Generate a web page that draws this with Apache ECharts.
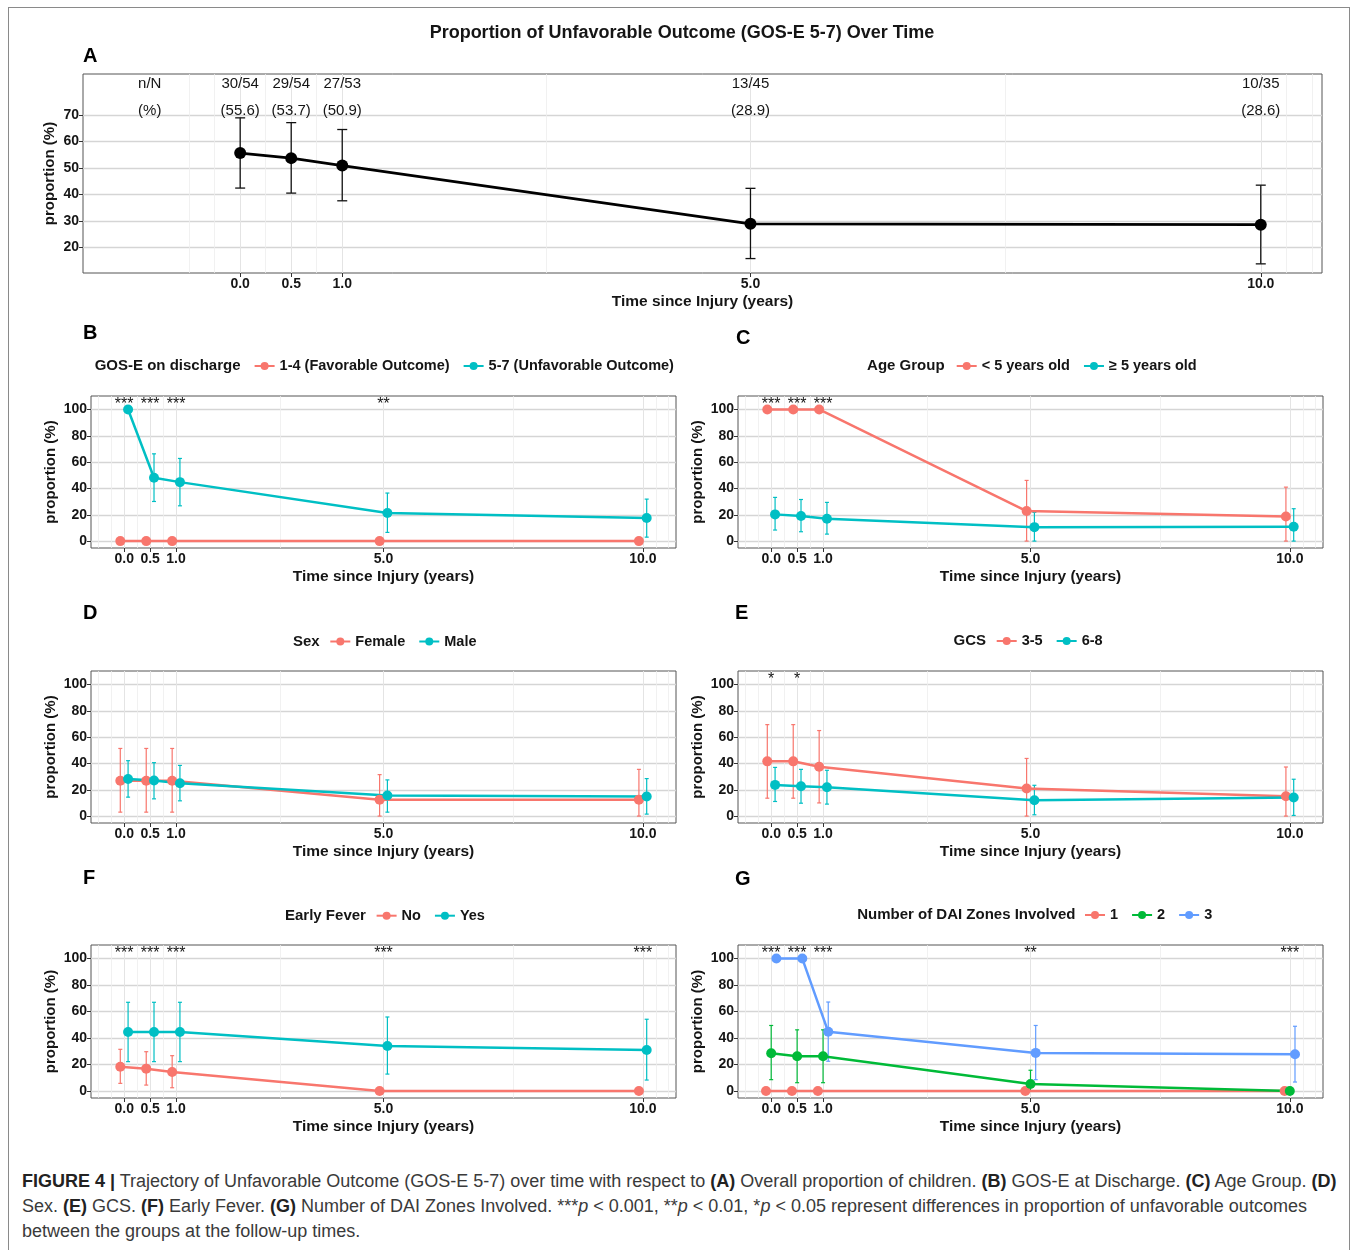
<!DOCTYPE html>
<html>
<head>
<meta charset="utf-8">
<script src="https://cdn.jsdelivr.net/npm/echarts@6/dist/echarts.min.js"></script>
<style>
html,body{margin:0;padding:0;background:#fff;}
#wrap{position:relative;width:1358px;height:1250px;overflow:hidden;background:#fff;}
#frame{position:absolute;left:8px;top:7px;width:1342px;height:1300px;border:1.5px solid #8a8a8a;box-sizing:border-box;}
#chart{position:absolute;left:0;top:0;width:1358px;height:1165px;}
#caption{position:absolute;left:22px;top:1169px;font-family:'Liberation Sans',Arial,sans-serif;font-size:18px;line-height:25px;color:#3a3a3a;white-space:nowrap;}
#caption b{color:#222;}
</style>
</head>
<body>
<div id="wrap">
  <div id="frame"></div>
  <div id="chart"></div>
  <div id="caption"><b>FIGURE 4 |</b> Trajectory of Unfavorable Outcome (GOS-E 5-7) over time with respect to <b>(A)</b> Overall proportion of children. <b>(B)</b> GOS-E at Discharge. <b>(C)</b> Age Group. <b>(D)</b><br>Sex. <b>(E)</b> GCS. <b>(F)</b> Early Fever. <b>(G)</b> Number of DAI Zones Involved. ***<i>p</i> &lt; 0.001, **<i>p</i> &lt; 0.01, *<i>p</i> &lt; 0.05 represent differences in proportion of unfavorable outcomes<br>between the groups at the follow-up times.</div>
</div>
<script>
// ---------- tick labels / breaks ----------
const timeBreaks = [0, 0.5, 1, 5, 10];
const minorBreaks = [-0.5, -0.25, 0.25, 0.75, 3, 7.5, 10.25, 10.5];
const yTicksOverall = [20, 30, 40, 50, 60, 70];
const yTicksGroup = [0, 20, 40, 60, 80, 100];

// ---------- Panel A: overall ----------
const overallCounts = ['30/54', '29/54', '27/53', '13/45', '10/35'];
const overallPct = [55.6, 53.7, 50.9, 28.9, 28.6];
const overallLow = [42.4, 40.5, 37.6, 15.8, 13.8];
const overallHigh = [68.9, 67.1, 64.5, 42.3, 43.5];

// ---------- Panel B: GOS-E on discharge ----------
const gosNames = ['1-4 (Favorable Outcome)', '5-7 (Unfavorable Outcome)'];
const gosFav = [0, 0, 0, 0, 0];
const gosFavLow = [0, 0, 0, 0, 0];
const gosFavHigh = [0, 0, 0, 0, 0];
const gosUnfav = [100, 48.1, 44.8, 21.3, 17.5];
const gosUnfavLow = [100, 30.1, 26.8, 6.6, 3.0];
const gosUnfavHigh = [100, 66.3, 62.8, 36.5, 31.9];
const gosStars = ['***', '***', '***', '**', ''];

// ---------- Panel C: Age group ----------
const ageNames = ['< 5 years old', '\u2265 5 years old'];
const ageYoung = [100, 100, 100, 22.8, 18.7];
const ageYoungLow = [100, 100, 100, 0, 0];
const ageYoungHigh = [100, 100, 100, 46.1, 41.0];
const ageOld = [20.3, 19.0, 17.0, 10.6, 10.9];
const ageOldLow = [8.4, 7.1, 5.3, 0, 0];
const ageOldHigh = [33.2, 31.6, 29.4, 21.8, 24.6];
const ageStars = ['***', '***', '***', '', ''];

// ---------- Panel D: Sex ----------
const sexNames = ['Female', 'Male'];
const sexFemale = [26.9, 26.9, 26.9, 12.5, 12.5];
const sexFemaleLow = [3.0, 3.0, 3.0, 0, 0];
const sexFemaleHigh = [51.4, 51.4, 51.4, 31.5, 35.5];
const sexMale = [28.2, 27.0, 24.9, 15.6, 14.9];
const sexMaleLow = [14.4, 13.1, 11.6, 3.0, 1.5];
const sexMaleHigh = [42.1, 40.6, 38.5, 27.5, 28.5];
const sexStars = ['', '', '', '', ''];

// ---------- Panel E: GCS ----------
const gcsNames = ['3-5', '6-8'];
const gcsLow35 = [41.6, 41.6, 37.5, 20.9, 15.1];
const gcsLow35Lo = [13.6, 13.6, 10.0, 0, 0];
const gcsLow35Hi = [69.5, 69.5, 65.0, 43.8, 37.3];
const gcsHigh68 = [23.7, 22.7, 21.9, 12.1, 14.1];
const gcsHigh68Lo = [11.1, 9.8, 9.1, 1.0, 0.5];
const gcsHigh68Hi = [37.0, 35.5, 34.8, 23.4, 28.0];
const gcsStars = ['*', '*', '', '', ''];

// ---------- Panel F: Early fever ----------
const feverNames = ['No', 'Yes'];
const feverNo = [18.4, 16.9, 14.4, 0, 0];
const feverNoLow = [5.8, 4.5, 2.5, 0, 0];
const feverNoHigh = [31.5, 29.7, 26.7, 0, 0];
const feverYes = [44.6, 44.6, 44.6, 34.0, 31.0];
const feverYesLow = [22.2, 22.2, 22.2, 12.8, 8.3];
const feverYesHigh = [67.0, 67.0, 67.0, 55.9, 54.2];
const feverStars = ['***', '***', '***', '***', '***'];

// ---------- Panel G: DAI zones ----------
const daiNames = ['1', '2', '3'];
const dai1 = [0, 0, 0, 0, 0];
const dai1Low = [0, 0, 0, 0, 0];
const dai1High = [0, 0, 0, 0, 0];
const dai2 = [28.5, 26.3, 26.3, 5.3, 0];
const dai2Low = [8.6, 6.3, 6.3, 0, 0];
const dai2High = [49.5, 46.2, 46.2, 15.7, 0];
const dai3 = [100, 100, 44.7, 28.8, 27.8];
const dai3Low = [100, 100, 22.5, 8.6, 6.8];
const dai3High = [100, 100, 67.2, 49.5, 48.9];
const daiStars = ['***', '***', '***', '**', '***'];

// ---------- styling / layout ----------
const FONT = "'Liberation Sans', Arial, Helvetica, sans-serif";
const TXT = '#151515';
const RED = '#F8766D', TEAL = '#00BFC4', GREEN = '#00BA38', BLUE = '#619CFF';

const panels = [
  {letter: 'B', legendTitle: 'GOS-E on discharge', stars: gosStars, groups: [
    {name: gosNames[0], v: gosFav, lo: gosFavLow, hi: gosFavHigh},
    {name: gosNames[1], v: gosUnfav, lo: gosUnfavLow, hi: gosUnfavHigh}]},
  {letter: 'C', legendTitle: 'Age Group', stars: ageStars, groups: [
    {name: ageNames[0], v: ageYoung, lo: ageYoungLow, hi: ageYoungHigh},
    {name: ageNames[1], v: ageOld, lo: ageOldLow, hi: ageOldHigh}]},
  {letter: 'D', legendTitle: 'Sex', stars: sexStars, groups: [
    {name: sexNames[0], v: sexFemale, lo: sexFemaleLow, hi: sexFemaleHigh},
    {name: sexNames[1], v: sexMale, lo: sexMaleLow, hi: sexMaleHigh}]},
  {letter: 'E', legendTitle: 'GCS', stars: gcsStars, groups: [
    {name: gcsNames[0], v: gcsLow35, lo: gcsLow35Lo, hi: gcsLow35Hi},
    {name: gcsNames[1], v: gcsHigh68, lo: gcsHigh68Lo, hi: gcsHigh68Hi}]},
  {letter: 'F', legendTitle: 'Early Fever', stars: feverStars, groups: [
    {name: feverNames[0], v: feverNo, lo: feverNoLow, hi: feverNoHigh},
    {name: feverNames[1], v: feverYes, lo: feverYesLow, hi: feverYesHigh}]},
  {letter: 'G', legendTitle: 'Number of DAI Zones Involved', stars: daiStars, groups: [
    {name: daiNames[0], v: dai1, lo: dai1Low, hi: dai1High},
    {name: daiNames[1], v: dai2, lo: dai2Low, hi: dai2High},
    {name: daiNames[2], v: dai3, lo: dai3Low, hi: dai3High}]}
];

// pixel layout
const gridA = {left: 83, top: 74, width: 1239, height: 199};
const panelRects = [
  {left: 91, top: 396, width: 585, height: 152},
  {left: 738, top: 396, width: 585, height: 152},
  {left: 91, top: 671, width: 585, height: 152},
  {left: 738, top: 671, width: 585, height: 152},
  {left: 91, top: 945, width: 585, height: 153},
  {left: 738, top: 945, width: 585, height: 153}
];
const letterPos = [[83, 56], [83, 333], [736, 338], [83, 613], [735, 613], [83, 878], [735, 879]];
const legendPos = [
  {icon: 263.6, y: 366, titleRight: 240.5},
  {icon: 965.7, y: 366, titleRight: 944.6},
  {icon: 339.3, y: 641.5, titleRight: 319.6},
  {icon: 1005.7, y: 641, titleRight: 986},
  {icon: 385.6, y: 915.7, titleRight: 365.9},
  {icon: 1094, y: 915, titleRight: 1075.5}
];
const xRangeA = [-1.54, 10.6], yRangeA = [10.35, 85.45];
const xRangeP = [-0.64, 10.64], yRangeP = [-5.25, 110.25];
const starY = 104;
const headerY = [81.7, 71.5];
const headerX = -1;

const grids = [], xAxes = [], yAxes = [], series = [], legends = [], graphics = [];

function addAxes(gi, rect, xr, yr, yTicks, yNameGap) {
  grids.push(Object.assign({show: true, borderColor: '#555', borderWidth: 1, backgroundColor: 'transparent',
    containLabel: false, outerBoundsMode: 'none'}, rect));
  xAxes.push({
    type: 'value', gridIndex: gi, min: xr[0], max: xr[1], position: 'bottom',
    name: 'Time since Injury (years)', nameLocation: 'middle', nameGap: 21, nameMoveOverlap: false,
    nameTextStyle: {fontFamily: FONT, fontWeight: 'bold', fontSize: 15.5, color: TXT},
    axisLine: {show: false, onZero: false},
    axisTick: {show: true, customValues: timeBreaks, length: 4, lineStyle: {color: '#333', width: 1}},
    axisLabel: {customValues: timeBreaks, formatter: v => Number(v).toFixed(1), fontFamily: FONT,
      fontWeight: 'bold', fontSize: 14, color: TXT, margin: 4},
    splitLine: {show: true, lineStyle: {color: '#e4e4e4', width: 1}}
  });
  xAxes.push({
    type: 'value', gridIndex: gi, min: xr[0], max: xr[1], position: 'bottom',
    axisLine: {show: false, onZero: false},
    axisTick: {show: false, customValues: minorBreaks},
    axisLabel: {show: false, customValues: minorBreaks},
    splitLine: {show: true, lineStyle: {color: '#ededed', width: 0.8}}
  });
  yAxes.push({
    type: 'value', gridIndex: gi, min: yr[0], max: yr[1], position: 'left',
    name: 'proportion (%)', nameLocation: 'middle', nameRotate: 90, nameGap: yNameGap, nameMoveOverlap: false,
    nameTextStyle: {fontFamily: FONT, fontWeight: 'bold', fontSize: 15, color: TXT},
    axisLine: {show: false, onZero: false},
    axisTick: {show: true, customValues: yTicks, length: 4, lineStyle: {color: '#333', width: 1}},
    axisLabel: {customValues: yTicks, fontFamily: FONT, fontWeight: 'bold', fontSize: 14, color: TXT, margin: 4},
    splitLine: {show: true, lineStyle: {color: '#d5d5d5', width: 1.4}}
  });
}

function errorSeries(gi, name, pts, color, cap, lw) {
  return {
    type: 'custom', name: name, xAxisIndex: 2 * gi, yAxisIndex: gi, silent: true, z: 2,
    data: pts, encode: {x: 0, y: [1, 2]},
    renderItem: function (params, api) {
      const x = api.value(0), lo = api.value(1), hi = api.value(2);
      if (!(hi > lo)) return null;
      const a = api.coord([x, hi]), b = api.coord([x, lo]);
      const st = {stroke: color, lineWidth: lw, fill: null};
      return {type: 'group', children: [
        {type: 'line', shape: {x1: a[0], y1: a[1], x2: b[0], y2: b[1]}, style: st},
        {type: 'line', shape: {x1: a[0] - cap, y1: a[1], x2: a[0] + cap, y2: a[1]}, style: st},
        {type: 'line', shape: {x1: b[0] - cap, y1: b[1], x2: b[0] + cap, y2: b[1]}, style: st}
      ]};
    }
  };
}

function textSeries(gi, name, pts, texts, font) {
  return {
    type: 'custom', name: name, xAxisIndex: 2 * gi, yAxisIndex: gi, silent: true, z: 6,
    data: pts, encode: {x: 0, y: 1},
    renderItem: function (params, api) {
      const p = api.coord([api.value(0), api.value(1)]);
      return {type: 'text', x: p[0], y: p[1], style: {
        text: texts[params.dataIndex], fill: font.color || TXT, fontFamily: FONT,
        fontSize: font.size, fontWeight: font.weight || 'normal',
        align: font.align || 'center', textAlign: font.align || 'center',
        verticalAlign: 'middle', textVerticalAlign: 'middle'}};
    }
  };
}

function lineSeries(gi, name, pts, color, size, width) {
  return {
    type: 'line', name: name, xAxisIndex: 2 * gi, yAxisIndex: gi, data: pts,
    color: color, symbol: 'circle', symbolSize: size, showSymbol: true, silent: true, z: 3,
    lineStyle: {color: color, width: width}, itemStyle: {color: color}, animation: false
  };
}

// ---- Panel A ----
addAxes(0, gridA, xRangeA, yRangeA, yTicksOverall, 26);
series.push(errorSeries(0, 'Overall CI', timeBreaks.map((t, i) => [t, overallLow[i], overallHigh[i]]), '#111', 5, 1.3));
series.push(lineSeries(0, 'Overall', timeBreaks.map((t, i) => [t, overallPct[i]]), '#000', 12, 2.7));
series.push(textSeries(0, 'countsN', timeBreaks.map(t => [t, headerY[0]]), overallCounts, {size: 15}));
series.push(textSeries(0, 'countsPct', timeBreaks.map(t => [t, headerY[1]]), overallPct.map(p => '(' + p.toFixed(1) + ')'), {size: 15}));
series.push(textSeries(0, 'headers', [[headerX, headerY[0]], [headerX, headerY[1]]], ['n/N', '(%)'], {size: 15, align: 'left'}));

// ---- Panels B-G ----
panels.forEach((pn, k) => {
  const gi = k + 1;
  addAxes(gi, panelRects[k], xRangeP, yRangeP, yTicksGroup, 33);
  const n = pn.groups.length;
  const colors = n === 3 ? [RED, GREEN, BLUE] : [RED, TEAL];
  const dodge = n === 3 ? [-0.1, 0, 0.1] : [-0.075, 0.075];
  pn.groups.forEach((g, j) => {
    series.push(errorSeries(gi, g.name + ' CI', timeBreaks.map((t, i) => [t + dodge[j], g.lo[i], g.hi[i]]), colors[j], 2, 1.2));
  });
  pn.groups.forEach((g, j) => {
    series.push(lineSeries(gi, g.name, timeBreaks.map((t, i) => [t + dodge[j], g.v[i]]), colors[j], 10, 2.5));
  });
  const sPts = [], sTxt = [];
  pn.stars.forEach((s, i) => { if (s) { sPts.push([timeBreaks[i], starY]); sTxt.push(s); } });
  series.push(textSeries(gi, 'stars' + pn.letter, sPts, sTxt, {size: 16}));

  const lp = legendPos[k];
  legends.push({
    data: pn.groups.map(g => g.name), left: lp.icon - 10, top: lp.y - 8, orient: 'horizontal',
    padding: 0, itemWidth: 20, itemHeight: 10, itemGap: 13, selectedMode: false,
    textStyle: {fontFamily: FONT, fontWeight: 'bold', fontSize: 14.5, color: TXT, lineHeight: 16}
  });
  graphics.push({type: 'text', x: lp.titleRight, y: lp.y, silent: true, style: {
    text: pn.legendTitle, fill: TXT, fontFamily: FONT, fontWeight: 'bold', fontSize: 15,
    align: 'right', textAlign: 'right', verticalAlign: 'middle', textVerticalAlign: 'middle'}});
});

// titles and panel letters
graphics.push({type: 'text', x: 682, y: 33, silent: true, style: {
  text: 'Proportion of Unfavorable Outcome (GOS-E 5-7) Over Time', fill: TXT, fontFamily: FONT,
  fontWeight: 'bold', fontSize: 18, align: 'center', textAlign: 'center', verticalAlign: 'middle', textVerticalAlign: 'middle'}});
['A', 'B', 'C', 'D', 'E', 'F', 'G'].forEach((L, i) => {
  graphics.push({type: 'text', x: letterPos[i][0], y: letterPos[i][1], silent: true, style: {
    text: L, fill: '#000', fontFamily: FONT, fontWeight: 'bold', fontSize: 20,
    align: 'left', textAlign: 'left', verticalAlign: 'middle', textVerticalAlign: 'middle'}});
});

const chart = echarts.init(document.getElementById('chart'), null, {renderer: 'canvas'});
chart.setOption({
  animation: false,
  backgroundColor: 'transparent',
  textStyle: {fontFamily: FONT},
  grid: grids, xAxis: xAxes, yAxis: yAxes, series: series, legend: legends, graphic: graphics
});
</script>
</body>
</html>
